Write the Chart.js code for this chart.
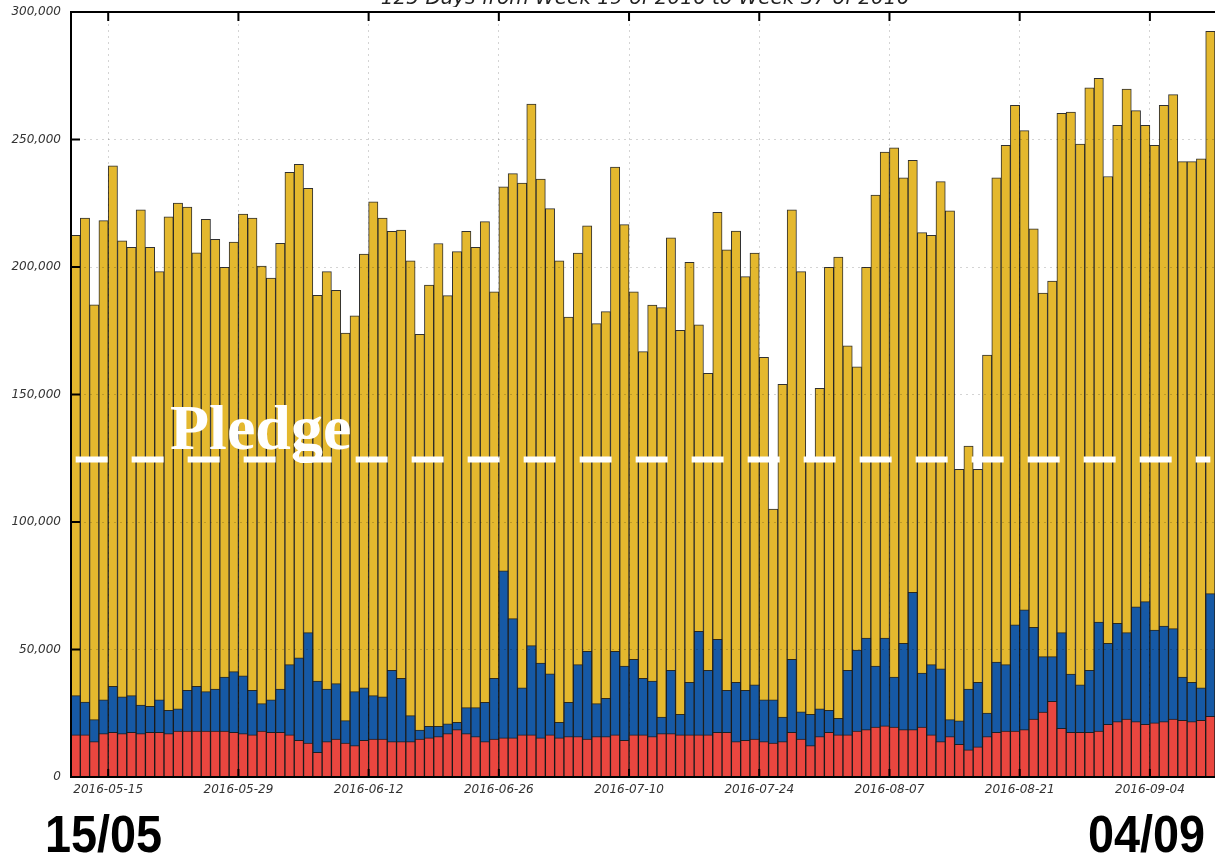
<!DOCTYPE html>
<html>
<head>
<meta charset="utf-8">
<script src="https://cdn.jsdelivr.net/npm/chart.js@4.4.0/dist/chart.umd.min.js"></script>
<style>
  html, body { margin: 0; padding: 0; background: #fff; overflow: hidden; }
  body { width: 1215px; height: 853px; position: relative; }
  #wrap { position: absolute; left: 0; top: 0; width: 1215px; height: 853px; }
  .title { position: absolute; left: 0; top: -13px; width: 1215px; padding-left: 75px; box-sizing: border-box;
           text-align: center; font: italic 20px "DejaVu Sans"; line-height: 20px; color: #222;
           white-space: nowrap; overflow: hidden; }
  .pledge { position: absolute; left: 170px; top: 396px; font: bold 64px "Liberation Serif";
            line-height: 64px; color: #fff; }
  .mark { position: absolute; top: 808px; font: bold 52px "Liberation Sans", Arial, sans-serif;
          line-height: 52px; color: #000; transform: scaleX(0.9); }
</style>
</head>
<body>
<div id="wrap"><canvas id="chart"></canvas></div>
<div class="title">125 Days from Week 19 of 2016 to Week 37 of 2016</div>
<div class="pledge">Pledge</div>
<div class="mark" style="left:45px; transform-origin:left center">15/05</div>
<div class="mark" style="right:10px; transform-origin:right center">04/09</div>

<script>
// ── data (thousands) ─────────────────────────────────────
const days     = getDaysRange('2016-05-11', '2016-09-10');
const tickDays = ['2016-05-15', '2016-05-29', '2016-06-12', '2016-06-26', '2016-07-10',
                  '2016-07-24', '2016-08-07', '2016-08-21', '2016-09-04'];

// top of the yellow part = daily total
const total = [
  212.4, 219.2, 185.2, 218.2, 239.7, 210.3, 207.7, 222.4, 207.7, 198.2,
  219.7, 225.1, 223.5, 205.6, 218.7, 210.9, 199.9, 209.8, 220.8, 219.2,
  200.4, 195.7, 209.3, 237.1, 240.3, 230.9, 188.9, 198.2, 190.9, 174.1,
  180.9, 205.1, 225.6, 219.2, 214.0, 214.5, 202.4, 173.6, 192.9, 209.2,
  188.8, 206.0, 214.0, 207.7, 217.8, 190.3, 231.4, 236.6, 232.9, 263.9,
  234.5, 222.9, 202.4, 180.4, 205.5, 216.1, 177.8, 182.5, 239.2, 216.6,
  190.3, 166.8, 185.1, 184.1, 211.4, 175.2, 201.8, 177.3, 158.3, 221.4,
  206.7, 214.1, 196.2, 205.5, 164.6, 105.1, 154.0, 222.4, 198.2, 124.3,
  152.4, 199.9, 203.9, 169.1, 160.9, 199.9, 228.2, 245.1, 246.7, 235.0,
  241.8, 213.5, 212.4, 233.5, 222.0, 120.7, 129.8, 120.7, 165.5, 235.0,
  247.7, 263.4, 253.5, 215.0, 189.8, 194.5, 260.3, 260.8, 248.2, 270.3,
  274.0, 235.5, 255.6, 269.8, 261.3, 255.6, 247.7, 263.4, 267.6, 241.3,
  241.3, 242.4, 292.4
];

// top of the blue part
const blueTop = [
  31.9, 29.4, 22.5, 30.3, 35.6, 31.4, 31.9, 28.2, 27.7, 30.3,
  26.1, 26.7, 34.0, 35.6, 33.5, 34.5, 39.2, 41.3, 39.7, 34.0,
  28.8, 30.3, 34.5, 44.1, 46.7, 56.6, 37.6, 34.5, 36.6, 22.1,
  33.5, 35.0, 31.9, 31.4, 41.8, 38.7, 24.1, 18.4, 19.9, 19.9,
  20.9, 21.4, 27.2, 27.2, 29.3, 38.7, 80.9, 62.1, 35.0, 51.5,
  44.7, 40.5, 21.4, 29.3, 44.1, 49.3, 28.8, 30.9, 49.3, 43.5,
  46.1, 38.7, 37.6, 23.5, 41.8, 24.6, 37.1, 57.1, 41.8, 54.0,
  34.0, 37.1, 34.0, 36.1, 30.3, 30.3, 23.5, 46.1, 25.6, 24.6,
  26.7, 26.1, 23.0, 41.8, 49.8, 54.5, 43.5, 54.5, 39.2, 52.4,
  72.4, 40.8, 44.1, 42.4, 22.5, 22.0, 34.5, 37.1, 25.1, 45.1,
  44.1, 59.7, 65.6, 58.7, 47.2, 47.2, 56.6, 40.4, 36.1, 41.8,
  60.8, 52.4, 60.3, 56.6, 66.7, 68.8, 57.6, 59.2, 58.2, 39.2,
  37.1, 35.0, 71.9
];

// red part (bottom)
const red = [
  16.5, 16.5, 13.9, 17.0, 17.5, 17.0, 17.5, 17.0, 17.5, 17.5,
  17.0, 18.0, 18.0, 18.0, 18.0, 18.0, 18.0, 17.5, 17.0, 16.5,
  18.0, 17.5, 17.5, 16.5, 14.4, 13.3,  9.7, 13.9, 14.9, 13.3,
  12.3, 14.4, 14.9, 14.9, 13.9, 13.9, 13.9, 14.9, 15.4, 15.9,
  17.0, 18.6, 17.0, 15.9, 13.9, 14.9, 15.4, 15.4, 16.5, 16.5,
  15.4, 16.5, 15.4, 15.9, 15.9, 14.9, 15.9, 15.9, 16.5, 14.4,
  16.5, 16.5, 15.9, 17.0, 17.0, 16.5, 16.5, 16.5, 16.5, 17.5,
  17.5, 13.9, 14.4, 14.9, 13.9, 13.3, 13.9, 17.5, 14.9, 12.3,
  15.9, 17.5, 16.5, 16.5, 18.0, 18.6, 19.6, 20.1, 19.6, 18.6,
  18.6, 19.6, 16.5, 13.9, 15.9, 12.8, 10.7, 11.8, 15.9, 17.5,
  18.0, 18.0, 18.6, 22.7, 25.5, 29.7, 19.1, 17.5, 17.5, 17.5,
  18.0, 20.7, 21.7, 22.7, 21.7, 20.7, 21.2, 21.7, 22.7, 22.2,
  21.7, 22.2, 23.8
];

const PLEDGE = 124.5;
const pledgeLine = days.map(() => PLEDGE);

// ── helpers ──────────────────────────────────────────────
function getDaysRange(from, to) {
  const out = [];
  const cur = new Date(from + 'T00:00:00Z');
  const end = new Date(to + 'T00:00:00Z');
  while (cur <= end) {
    out.push(cur.toISOString().split('T')[0]);
    cur.setUTCDate(cur.getUTCDate() + 1);
  }
  return out;
}

const FONT = 'DejaVu Sans';
const gridCol = 'rgba(0,0,0,0.17)';

// black frame + inward tick marks
const frameMarks = {
  id: 'frameMarks',
  afterDraw(chart) {
    const { ctx, chartArea: a, scales } = chart;
    ctx.save();
    ctx.strokeStyle = '#000';
    ctx.lineWidth = 2;
    ctx.beginPath();
    ctx.moveTo(a.left - 1, a.top);
    ctx.lineTo(a.right, a.top);
    scales.y.ticks.forEach((t, i) => {
      const y = scales.y.getPixelForTick(i);
      ctx.moveTo(a.left, y);
      ctx.lineTo(a.left + 9, y);
    });
    scales.x2.ticks.forEach((t, i) => {
      const x = scales.x2.getPixelForTick(i);
      ctx.moveTo(x, a.top);
      ctx.lineTo(x, a.top + 9);
      ctx.moveTo(x, a.bottom);
      ctx.lineTo(x, a.bottom - 8);
    });
    ctx.stroke();
    ctx.restore();
  }
};

const barStyle = {
  type: 'bar',
  grouped: false,
  categoryPercentage: 1,
  barPercentage: 1,
  borderWidth: 1,
  borderColor: 'rgba(25,25,25,0.9)',
  xAxisID: 'x',
  order: 1
};

new Chart(document.getElementById('chart'), {
  type: 'bar',
  data: {
    labels: days,
    datasets: [
      { type: 'line', label: 'Pledge', data: pledgeLine, xAxisID: 'x', order: 0,
        borderColor: '#fff', borderWidth: 6, borderDash: [32, 24], borderCapStyle: 'butt',
        pointRadius: 0, fill: false },
      { ...barStyle, label: 'red',    data: red,     backgroundColor: '#EA463F' },
      { ...barStyle, label: 'blue',   data: blueTop, backgroundColor: '#1659A5' },
      { ...barStyle, label: 'yellow', data: total,   backgroundColor: '#E4B82E' }
    ]
  },
  options: {
    responsive: true,
    maintainAspectRatio: false,
    animation: false,
    devicePixelRatio: 1,
    layout: { padding: { top: 12, bottom: 48, left: 0, right: 0 } },
    plugins: { legend: { display: false }, tooltip: { enabled: false }, title: { display: false } },
    scales: {
      x: { type: 'category', display: false, offset: true },
      x2: {
        type: 'linear',
        position: 'bottom',
        offset: false,
        min: 0,
        max: days.length,
        afterBuildTicks: s => { s.ticks = tickDays.map(d => ({ value: days.indexOf(d) })); },
        afterFit: s => { s.height = 28; s.paddingLeft = 0; s.paddingRight = 0; },
        ticks: {
          callback: v => days[v],
          autoSkip: false, maxRotation: 0, padding: 6,
          color: '#333', font: { family: FONT, size: 12, style: 'italic' }
        },
        grid: { offset: false, color: gridCol, drawTicks: false, z: 1 },
        border: { display: true, color: '#000', width: 2, dash: [2, 4], z: 2 }
      },
      y: {
        min: 0,
        max: 300,
        afterFit: s => { s.width = 71; s.paddingTop = 0; s.paddingBottom = 0; },
        ticks: {
          stepSize: 50,
          callback: v => (v * 1000).toLocaleString('en-US'),
          padding: 10,
          color: '#333', font: { family: FONT, size: 12, style: 'italic' }
        },
        grid: { color: gridCol, drawTicks: false, z: 1 },
        border: { display: true, color: '#000', width: 2, dash: [2, 4], z: 2 }
      }
    }
  },
  plugins: [frameMarks]
});
</script>
</body>
</html>
